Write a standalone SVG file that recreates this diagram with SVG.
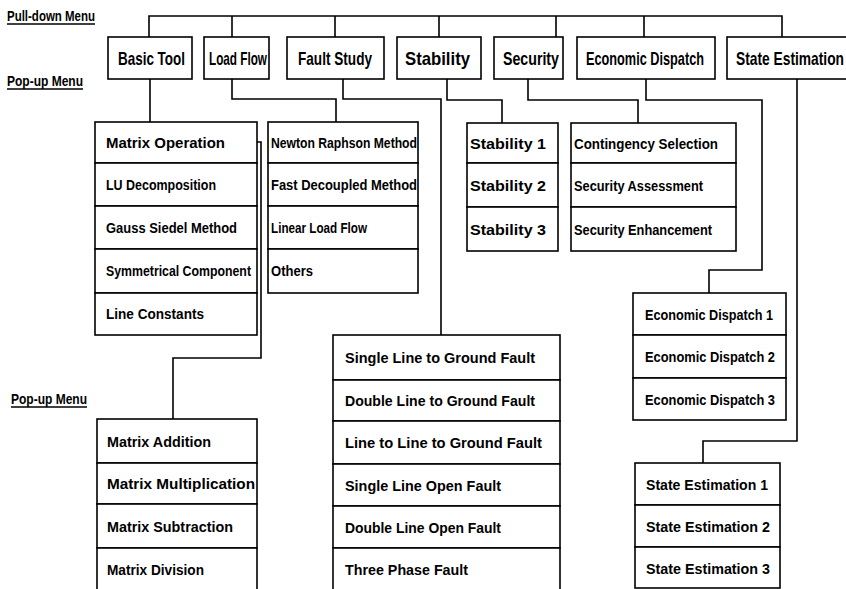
<svg xmlns="http://www.w3.org/2000/svg" width="846" height="589" viewBox="0 0 846 589">
<style>
rect{fill:#fff;stroke:#000;stroke-width:1.6}
.c{fill:none;stroke:#000;stroke-width:1.6}
text{font-family:"Liberation Sans",Arial,sans-serif;font-weight:bold;fill:#000}
.hd{font-size:15px}
.it{font-size:15.5px}
.lb{font-size:14px}
.u{stroke:#000;stroke-width:1.6}
</style>
<rect x="0" y="0" width="846" height="589" style="stroke:none"/>
<g id="labels">
<text class="lb" x="7" y="21" textLength="88" lengthAdjust="spacingAndGlyphs">Pull-down Menu</text>
<line class="u" x1="7" y1="24" x2="95" y2="24"/>
<text class="lb" x="7" y="86" textLength="76" lengthAdjust="spacingAndGlyphs">Pop-up Menu</text>
<line class="u" x1="7" y1="89" x2="83" y2="89"/>
<text class="lb" x="11" y="404" textLength="76" lengthAdjust="spacingAndGlyphs">Pop-up Menu</text>
<line class="u" x1="11" y1="407" x2="87" y2="407"/>
</g>
<g id="connectors">
<path class="c" d="M149,37V16H782V37M232,16V37M335,16V37M439,16V37M556,16V37M644,16V37"/>
<path class="c" d="M150,79V122"/>
<path class="c" d="M232,79V99H336V122"/>
<path class="c" d="M343,79V99H441V335"/>
<path class="c" d="M447,79V100H502V123"/>
<path class="c" d="M528,79V100H638V123"/>
<path class="c" d="M646,79V100H762V270H709V293"/>
<path class="c" d="M797,79V441H703V463"/>
<path class="c" d="M257,142H261V358H173V419"/>
</g>
<g id="basic-tool"><rect x="108" y="37" width="84" height="42"/><text class="hd" transform="translate(118,65) scale(1,1.2)" textLength="67" lengthAdjust="spacingAndGlyphs">Basic Tool</text></g>
<g id="load-flow"><rect x="204" y="37" width="65" height="42"/><text class="hd" transform="translate(209,65) scale(1,1.2)" textLength="58" lengthAdjust="spacingAndGlyphs">Load Flow</text></g>
<g id="fault-study"><rect x="287" y="37" width="97" height="42"/><text class="hd" transform="translate(298,65) scale(1,1.2)" textLength="74" lengthAdjust="spacingAndGlyphs">Fault Study</text></g>
<g id="stability"><rect x="397" y="37" width="84" height="42"/><text class="hd" transform="translate(405,65) scale(1,1.2)" textLength="65" lengthAdjust="spacingAndGlyphs">Stability</text></g>
<g id="security"><rect x="494" y="37" width="69" height="42"/><text class="hd" transform="translate(503,65) scale(1,1.2)" textLength="56" lengthAdjust="spacingAndGlyphs">Security</text></g>
<g id="economic-dispatch"><rect x="577" y="37" width="138" height="42"/><text class="hd" transform="translate(586,65) scale(1,1.2)" textLength="118" lengthAdjust="spacingAndGlyphs">Economic Dispatch</text></g>
<g id="state-estimation"><rect x="727" y="37" width="125" height="42"/><text class="hd" style="font-size:14px" transform="translate(736,65) scale(1,1.286)" textLength="108" lengthAdjust="spacingAndGlyphs">State Estimation</text></g>

<g id="basic-tool-menu">
<rect x="95" y="122" width="162" height="41"/><text class="it" x="106" y="148" textLength="119" lengthAdjust="spacingAndGlyphs">Matrix Operation</text>
<rect x="95" y="163" width="162" height="43"/><text class="it" x="106" y="190" textLength="110" lengthAdjust="spacingAndGlyphs">LU Decomposition</text>
<rect x="95" y="206" width="162" height="43"/><text class="it" x="106" y="233" textLength="131" lengthAdjust="spacingAndGlyphs">Gauss Siedel Method</text>
<rect x="95" y="249" width="162" height="44"/><text class="it" style="font-size:12.3px" transform="translate(106,276) scale(1,1.26)" textLength="145" lengthAdjust="spacingAndGlyphs">Symmetrical Component</text>
<rect x="95" y="293" width="162" height="42"/><text class="it" x="106" y="319" textLength="98" lengthAdjust="spacingAndGlyphs">Line Constants</text>
</g>
<g id="load-flow-menu">
<rect x="268" y="122" width="150" height="41"/><text class="it" x="271" y="148" textLength="146" lengthAdjust="spacingAndGlyphs">Newton Raphson Method</text>
<rect x="268" y="163" width="150" height="43"/><text class="it" x="271" y="190" textLength="146" lengthAdjust="spacingAndGlyphs">Fast Decoupled Method</text>
<rect x="268" y="206" width="150" height="43"/><text class="it" x="271" y="233" textLength="96" lengthAdjust="spacingAndGlyphs">Linear Load Flow</text>
<rect x="268" y="249" width="150" height="44"/><text class="it" x="271" y="276" textLength="42" lengthAdjust="spacingAndGlyphs">Others</text>
</g>
<g id="stability-menu">
<rect x="467" y="123" width="91" height="40"/><text class="it" x="470" y="149" textLength="76" lengthAdjust="spacingAndGlyphs">Stability 1</text>
<rect x="467" y="163" width="91" height="44"/><text class="it" x="470" y="191" textLength="76" lengthAdjust="spacingAndGlyphs">Stability 2</text>
<rect x="467" y="207" width="91" height="44"/><text class="it" x="470" y="235" textLength="76" lengthAdjust="spacingAndGlyphs">Stability 3</text>
</g>
<g id="security-menu">
<rect x="571" y="123" width="165" height="40"/><text class="it" x="574" y="149" textLength="144" lengthAdjust="spacingAndGlyphs">Contingency Selection</text>
<rect x="571" y="163" width="165" height="44"/><text class="it" x="574" y="191" textLength="129" lengthAdjust="spacingAndGlyphs">Security Assessment</text>
<rect x="571" y="207" width="165" height="44"/><text class="it" x="574" y="235" textLength="138" lengthAdjust="spacingAndGlyphs">Security Enhancement</text>
</g>
<g id="economic-dispatch-menu">
<rect x="633" y="293" width="153" height="42"/><text class="it" x="645" y="320" textLength="128" lengthAdjust="spacingAndGlyphs">Economic Dispatch 1</text>
<rect x="633" y="335" width="153" height="43"/><text class="it" x="645" y="362" textLength="130" lengthAdjust="spacingAndGlyphs">Economic Dispatch 2</text>
<rect x="633" y="378" width="153" height="42"/><text class="it" x="645" y="405" textLength="130" lengthAdjust="spacingAndGlyphs">Economic Dispatch 3</text>
</g>
<g id="fault-study-menu">
<rect x="333" y="335" width="227" height="45"/><text class="it" x="345" y="363" textLength="190" lengthAdjust="spacingAndGlyphs">Single Line to Ground Fault</text>
<rect x="333" y="380" width="227" height="41"/><text class="it" x="345" y="406" textLength="190" lengthAdjust="spacingAndGlyphs">Double Line to Ground Fault</text>
<rect x="333" y="421" width="227" height="43"/><text class="it" x="345" y="448" textLength="197" lengthAdjust="spacingAndGlyphs">Line to Line to Ground Fault</text>
<rect x="333" y="464" width="227" height="42"/><text class="it" x="345" y="491" textLength="156" lengthAdjust="spacingAndGlyphs">Single Line Open Fault</text>
<rect x="333" y="506" width="227" height="42"/><text class="it" x="345" y="533" textLength="156" lengthAdjust="spacingAndGlyphs">Double Line Open Fault</text>
<rect x="333" y="548" width="227" height="44"/><text class="it" x="345" y="575" textLength="123" lengthAdjust="spacingAndGlyphs">Three Phase Fault</text>
</g>
<g id="matrix-operation-menu">
<rect x="97" y="419" width="160" height="44"/><text class="it" x="107" y="447" textLength="104" lengthAdjust="spacingAndGlyphs">Matrix Addition</text>
<rect x="97" y="463" width="160" height="41"/><text class="it" x="107" y="489" textLength="148" lengthAdjust="spacingAndGlyphs">Matrix Multiplication</text>
<rect x="97" y="504" width="160" height="44"/><text class="it" x="107" y="532" textLength="126" lengthAdjust="spacingAndGlyphs">Matrix Subtraction</text>
<rect x="97" y="548" width="160" height="44"/><text class="it" x="107" y="575" textLength="97" lengthAdjust="spacingAndGlyphs">Matrix Division</text>
</g>
<g id="state-estimation-menu">
<rect x="635" y="463" width="145" height="42"/><text class="it" x="646" y="490" textLength="122" lengthAdjust="spacingAndGlyphs">State Estimation 1</text>
<rect x="635" y="505" width="145" height="42"/><text class="it" x="646" y="532" textLength="124" lengthAdjust="spacingAndGlyphs">State Estimation 2</text>
<rect x="635" y="547" width="145" height="41"/><text class="it" x="646" y="574" textLength="124" lengthAdjust="spacingAndGlyphs">State Estimation 3</text>
</g>
</svg>
